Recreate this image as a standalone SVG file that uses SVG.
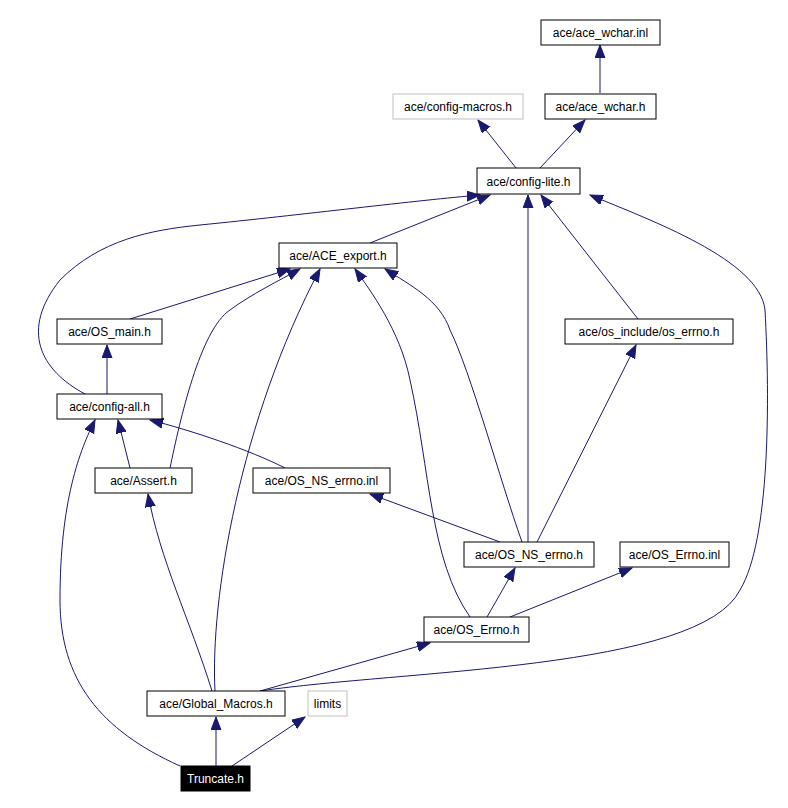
<svg xmlns="http://www.w3.org/2000/svg" width="788" height="808" viewBox="0 0 788 808">
<defs>
<style>
.n rect{fill:#fff;stroke:#000;stroke-width:1}
.g rect{stroke:#bfbfbf}
.n text{font-family:"Liberation Sans",Arial,sans-serif;font-size:12px;text-anchor:middle;fill:#000}
.e path{fill:none;stroke:#191970;stroke-width:1;marker-end:url(#a)}
</style>
<marker id="a" markerUnits="userSpaceOnUse" markerWidth="14" markerHeight="12" refX="13" refY="5" orient="auto"><path d="M0,0 L13,5 L0,10 Z" fill="#191970" stroke="#191970"/></marker>
</defs>
<rect width="788" height="808" fill="#fff"/>
<g class="e">
<path d="M600,93 L600,45"/>
<path d="M516,168 L478,120"/>
<path d="M540,168 L585,120"/>
<path d="M370,243 L490,195"/>
<path d="M85,394 C40,370 20,330 60,280 C100,240 150,230 200,225 C300,215 420,200 480,195"/>
<path d="M528,542 L528,195"/>
<path d="M638,319 L541,195"/>
<path d="M260,691 C400,670 700,670 740,590 C770,540 770,400 765,310 C760,260 650,220 590,195"/>
<path d="M130,319 L290,269"/>
<path d="M170,468 C180,420 200,330 230,310 C250,295 280,280 300,269"/>
<path d="M215,691 C210,600 240,420 320,269"/>
<path d="M470,617 C430,560 430,470 410,380 C400,330 370,290 355,269"/>
<path d="M522,542 C500,480 470,370 450,330 C440,300 410,285 385,269"/>
<path d="M107,394 L107,345"/>
<path d="M130,468 L118,420"/>
<path d="M180,766 C100,730 60,680 60,600 C60,500 80,450 95,420"/>
<path d="M285,468 C250,450 190,430 150,420"/>
<path d="M212,691 C190,620 160,560 148,494"/>
<path d="M500,542 L370,494"/>
<path d="M537,542 L636,345"/>
<path d="M487,617 L515,568"/>
<path d="M510,617 L632,568"/>
<path d="M260,691 L430,643"/>
<path d="M216,766 L216,717"/>
<path d="M232,766 L305,717"/>
</g>
<g id="n_wchar_inl" class="n"><rect x="541" y="20" width="119" height="25"/><text x="600.5" y="37">ace/ace_wchar.inl</text></g>
<g id="n_config_macros" class="n g"><rect x="393" y="94" width="130" height="25"/><text x="458" y="111">ace/config-macros.h</text></g>
<g id="n_wchar_h" class="n"><rect x="545" y="94" width="111" height="25"/><text x="600.5" y="111">ace/ace_wchar.h</text></g>
<g id="n_config_lite" class="n"><rect x="477" y="168" width="103" height="26"/><text x="528.5" y="186">ace/config-lite.h</text></g>
<g id="n_ace_export" class="n"><rect x="279" y="243" width="118" height="25"/><text x="338" y="260">ace/ACE_export.h</text></g>
<g id="n_os_main" class="n"><rect x="57" y="319" width="105" height="25"/><text x="109.5" y="336">ace/OS_main.h</text></g>
<g id="n_os_errno_h" class="n"><rect x="565" y="319" width="168" height="25"/><text x="649" y="336">ace/os_include/os_errno.h</text></g>
<g id="n_config_all" class="n"><rect x="57" y="394" width="105" height="25"/><text x="109.5" y="411">ace/config-all.h</text></g>
<g id="n_assert" class="n"><rect x="95" y="468" width="97" height="25"/><text x="143.5" y="485">ace/Assert.h</text></g>
<g id="n_os_ns_errno_inl" class="n"><rect x="253" y="468" width="137" height="25"/><text x="321.5" y="485">ace/OS_NS_errno.inl</text></g>
<g id="n_os_ns_errno_h" class="n"><rect x="464" y="542" width="130" height="25"/><text x="529" y="559">ace/OS_NS_errno.h</text></g>
<g id="n_os_errno_inl" class="n"><rect x="620" y="542" width="109" height="25"/><text x="674.5" y="559">ace/OS_Errno.inl</text></g>
<g id="n_os_errno" class="n"><rect x="424" y="617" width="105" height="25"/><text x="476.5" y="634">ace/OS_Errno.h</text></g>
<g id="n_global_macros" class="n"><rect x="147" y="691" width="138" height="25"/><text x="216" y="708">ace/Global_Macros.h</text></g>
<g id="n_limits" class="n g"><rect x="308" y="691" width="39" height="25"/><text x="327.5" y="708">limits</text></g>
<g id="n_truncate" class="n"><rect x="181" y="766" width="69" height="25" style="fill:#000"/><text x="215.5" y="783" style="fill:#fff">Truncate.h</text></g>
</svg>
